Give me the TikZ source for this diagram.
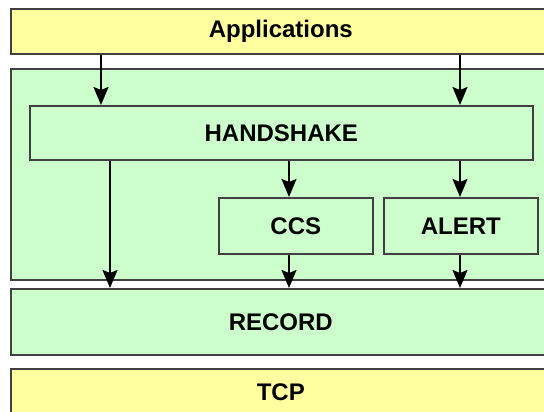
\documentclass[tikz,border=0pt]{standalone}
\usepackage{fontspec}
\setmainfont{Liberation Sans}
\usetikzlibrary{arrows.meta}
\definecolor{layeryellow}{RGB}{255,255,160}
\definecolor{layergreen}{RGB}{204,255,204}
\definecolor{edgegray}{RGB}{64,64,64}
\tikzset{
  layerbox/.style={draw=edgegray, line width=1.6pt, rectangle, inner sep=0pt,
    anchor=north west, font=\fontsize{24}{28}\selectfont\bfseries},
  yellowbox/.style={layerbox, fill=layeryellow},
  greenbox/.style={layerbox, fill=layergreen},
  flow/.style={draw=black, line width=1.6pt,
    -{Stealth[length=18pt,width=15pt,inset=3pt]}}
}
\begin{document}
\begin{tikzpicture}[x=1pt,y=1pt]
  \useasboundingbox (0,0) rectangle (544,412);
  \clip (0,0) rectangle (544,412);
  \fill[white] (0,0) rectangle (544,412);

  % protocol layers
  \node[yellowbox, minimum width=540, minimum height=45] (app) at (10,404) {Applications};
  \node[greenbox, minimum width=540, minimum height=211] (tls) at (10,344) {};
  \node[greenbox, minimum width=503, minimum height=54] (hs) at (29,307) {HANDSHAKE};
  \node[greenbox, minimum width=154, minimum height=56] (ccs) at (218,215) {CCS};
  \node[greenbox, minimum width=154, minimum height=56] (alert) at (383,215) {ALERT};
  \node[greenbox, minimum width=540, minimum height=66] (rec) at (10,124) {RECORD};
  \node[yellowbox, minimum width=540, minimum height=46] (tcp) at (10,44) {TCP};

  % data paths
  \coordinate (xa) at (101,0);
  \coordinate (xb) at (110,0);
  \coordinate (xc) at (289,0);
  \coordinate (xd) at (460,0);
  \draw[flow] (app.south -| xa) -- (hs.north -| xa);
  \draw[flow] (app.south -| xd) -- (hs.north -| xd);
  \draw[flow] (hs.south -| xb) -- (rec.north -| xb);
  \draw[flow] (hs.south -| xc) -- (ccs.north -| xc);
  \draw[flow] (hs.south -| xd) -- (alert.north -| xd);
  \draw[flow] (ccs.south -| xc) -- (rec.north -| xc);
  \draw[flow] (alert.south -| xd) -- (rec.north -| xd);
\end{tikzpicture}
\end{document}
